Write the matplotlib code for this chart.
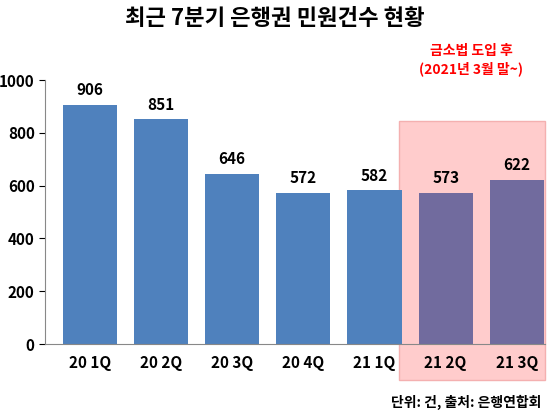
import matplotlib
matplotlib.use("Agg")
import matplotlib.pyplot as plt
from matplotlib.patches import Rectangle

plt.rcParams['font.family'] = ['Noto Sans CJK KR', 'DejaVu Sans']

categories = ["20 1Q", "20 2Q", "20 3Q", "20 4Q", "21 1Q", "21 2Q", "21 3Q"]
values = [906, 851, 646, 572, 582, 573, 622]
colors = ["#4F81BD"] * 5 + ["#716B9E"] * 2

fig = plt.figure(figsize=(5.5, 4.15), dpi=100)
ax = fig.add_axes([0.082, 0.171, 0.908, 0.636])
ax.set_zorder(2)
x = list(range(len(categories)))
xl, xr = -0.63, 6.39

x0 = (4.34 - xl) / (xr - xl) * 0.908 + 0.082
fig.patches.append(Rectangle((x0, 35/415), 0.99 - x0, (415-121-35)/415,
                             transform=fig.transFigure, facecolor="#FFCCCC",
                             edgecolor="#F4B0B0", zorder=-1))
ax.set_facecolor("none")
ax.patch.set_visible(False)

ax.bar(x, values, width=0.76, color=colors, zorder=2)
for xi, v in zip(x, values):
    ax.text(xi, v + 25, str(v), ha="center", va="bottom", fontsize=11, fontweight="bold")

ax.set_xlim(xl, xr)
ax.set_ylim(0, 1000)
ax.set_yticks(range(0, 1001, 200))
ax.set_xticks(x)
ax.set_xticklabels(categories, fontsize=11, fontweight="bold")
for lab in ax.get_yticklabels():
    lab.set_fontsize(11); lab.set_fontweight("bold")
ax.tick_params(axis="x", length=0, pad=8)
ax.tick_params(axis="y", length=4)
for s in ["top", "right"]:
    ax.spines[s].set_visible(False)
ax.spines["left"].set_color("#888888")
ax.spines["bottom"].set_color("#888888")

fig.text(0.5, 0.955, "최근 7분기 은행권 민원건수 현황", ha="center", va="center",
         fontsize=16, fontweight="bold")
fig.text(0.857, 0.855, "금소법 도입 후\n(2021년 3월 말~)", ha="center", va="center",
         fontsize=10, fontweight="bold", color="#FF0000", linespacing=1.3)
fig.text(0.985, 0.03, "단위: 건, 출처: 은행연합회", ha="right", va="center",
         fontsize=10, fontweight="bold")

fig.savefig("out.png", dpi=100)
